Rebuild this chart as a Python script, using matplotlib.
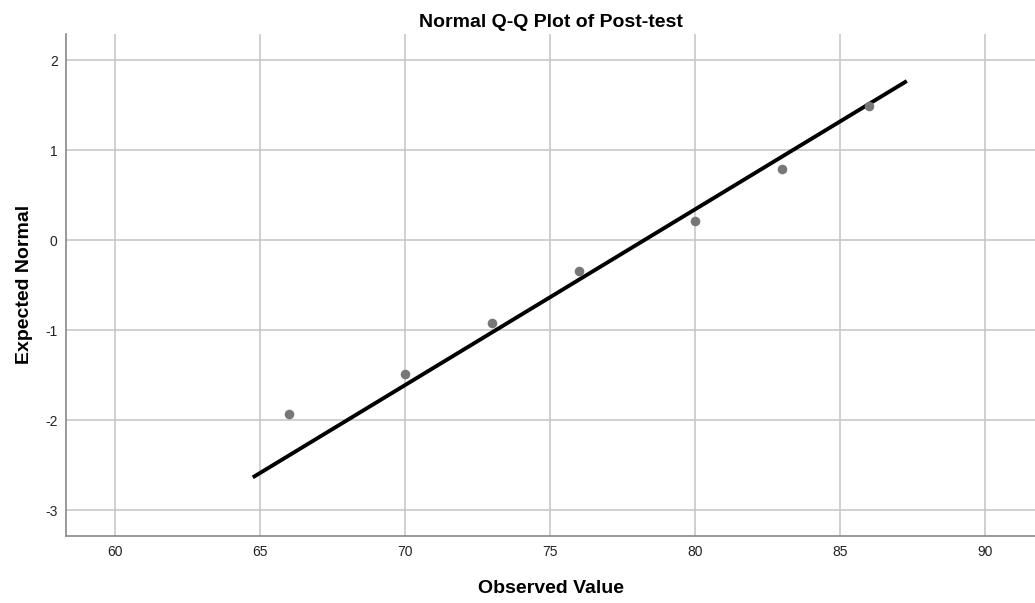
import matplotlib
matplotlib.use("Agg")
import matplotlib.pyplot as plt
import numpy as np
from matplotlib import rcParams

rcParams['font.family'] = ['Liberation Sans', 'DejaVu Sans']
rcParams['axes.unicode_minus'] = False

observed = [66, 70, 73, 76, 80, 83, 86]
expected = [-1.93, -1.49, -0.92, -0.34, 0.21, 0.785, 1.49]

# reference line: expected = (x - mean) / sd
line_x = [64.75, 87.3]
line_mean = 78.25
line_sd = 5.12

xticks = [60, 65, 70, 75, 80, 85, 90]
yticks = [-3, -2, -1, 0, 1, 2]

fig = plt.figure(figsize=(10.35, 6.03), dpi=100)
ax = fig.add_axes([0.0638, 0.1116, 0.9362, 0.832])

lx = np.array(line_x)
ax.plot(lx, (lx - line_mean) / line_sd, color='black', lw=2.8, solid_capstyle='butt', zorder=3)
ax.scatter(observed, expected, s=48, color='#777777', zorder=4, linewidths=0)

ax.set_xlim(58.31, 91.72)
ax.set_ylim(-3.285, 2.29)
ax.set_xticks(xticks)
ax.set_yticks(yticks)
ax.grid(True, color='#c8c8c8', lw=1.2)
ax.set_axisbelow(True)
ax.tick_params(length=0, labelsize=10, colors='#222222')
ax.tick_params(axis='x', pad=7)
ax.tick_params(axis='y', pad=6)

for s in ['top', 'right']:
    ax.spines[s].set_visible(False)
for s in ['left', 'bottom']:
    ax.spines[s].set_color('#888888')
    ax.spines[s].set_linewidth(1.2)

ax.set_title('Normal Q-Q Plot of Post-test', fontsize=14, fontweight='bold', pad=5)
ax.set_xlabel('Observed Value', fontsize=14, fontweight='bold', labelpad=15)
ax.set_ylabel('Expected Normal', fontsize=14, fontweight='bold', labelpad=9)

fig.savefig('out.png', dpi=100)
